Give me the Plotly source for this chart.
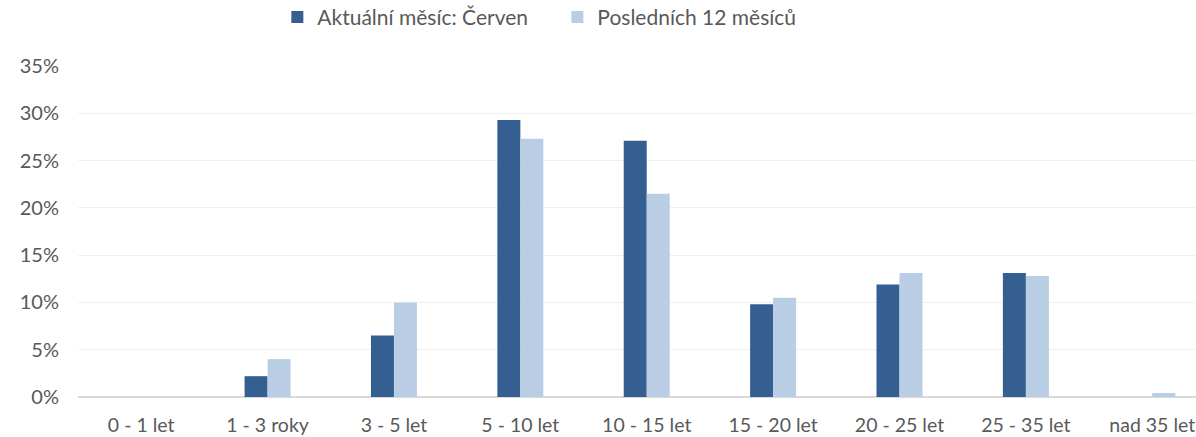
import plotly.graph_objects as go

categories = ["0 - 1 let", "1 - 3 roky", "3 - 5 let", "5 - 10 let", "10 - 15 let",
              "15 - 20 let", "20 - 25 let", "25 - 35 let", "nad 35 let"]
aktualni = [0.0, 0.022, 0.065, 0.293, 0.271, 0.098, 0.119, 0.131, 0.0]
poslednich = [0.0, 0.040, 0.100, 0.273, 0.215, 0.105, 0.131, 0.128, 0.0042]
series_names = ["Aktuální měsíc: Červen", "Posledních 12 měsíců"]
y_ticks = [0, 0.05, 0.10, 0.15, 0.20, 0.25, 0.30, 0.35]
y_tick_labels = ["0%", "5%", "10%", "15%", "20%", "25%", "30%", "35%"]

FONT = "Lato, 'Open Sans', sans-serif"
x_idx = list(range(len(categories)))

fig = go.Figure()
fig.add_trace(go.Bar(x=x_idx, y=aktualni, name=series_names[0],
                     marker=dict(color="#365F91", line=dict(width=0))))
fig.add_trace(go.Bar(x=x_idx, y=poslednich, name=series_names[1],
                     marker=dict(color="#B9CDE5", line=dict(width=0))))

fig.update_layout(
    width=1196, height=437,
    margin=dict(l=78, r=0, t=66, b=40, autoexpand=False),
    paper_bgcolor="white", plot_bgcolor="white",
    barmode="group", bargap=0.636, bargroupgap=0,
    font=dict(family=FONT, color="#595959"),
    legend=dict(orientation="h", xref="container", yref="paper",
                x=0.466, xanchor="center", y=1.209, yanchor="top",
                font=dict(size=21, color="#595959"),
                itemwidth=30, entrywidth=235, traceorder="normal"),
    xaxis=dict(tickmode="array", tickvals=x_idx, ticktext=categories,
               range=[-0.5, 8.346], showgrid=False, zeroline=False,
               showline=False, ticks="", tickfont=dict(size=19.5, color="#595959"),
               ticklabelstandoff=14, automargin=False),
    yaxis=dict(range=[0, 0.35], tickmode="array", tickvals=y_ticks,
               ticktext=y_tick_labels, showgrid=True, gridcolor="#F0F0F0",
               gridwidth=1.2, zeroline=True, zerolinecolor="#D9D9D9",
               zerolinewidth=1.5, showline=False, ticks="",
               tickfont=dict(size=20, color="#595959"), ticklabelstandoff=18,
               automargin=False),
)

fig.write_html("out.html", config={"displayModeBar": False},
               post_script="document.body.style.margin='0';document.body.style.overflow='hidden';")
